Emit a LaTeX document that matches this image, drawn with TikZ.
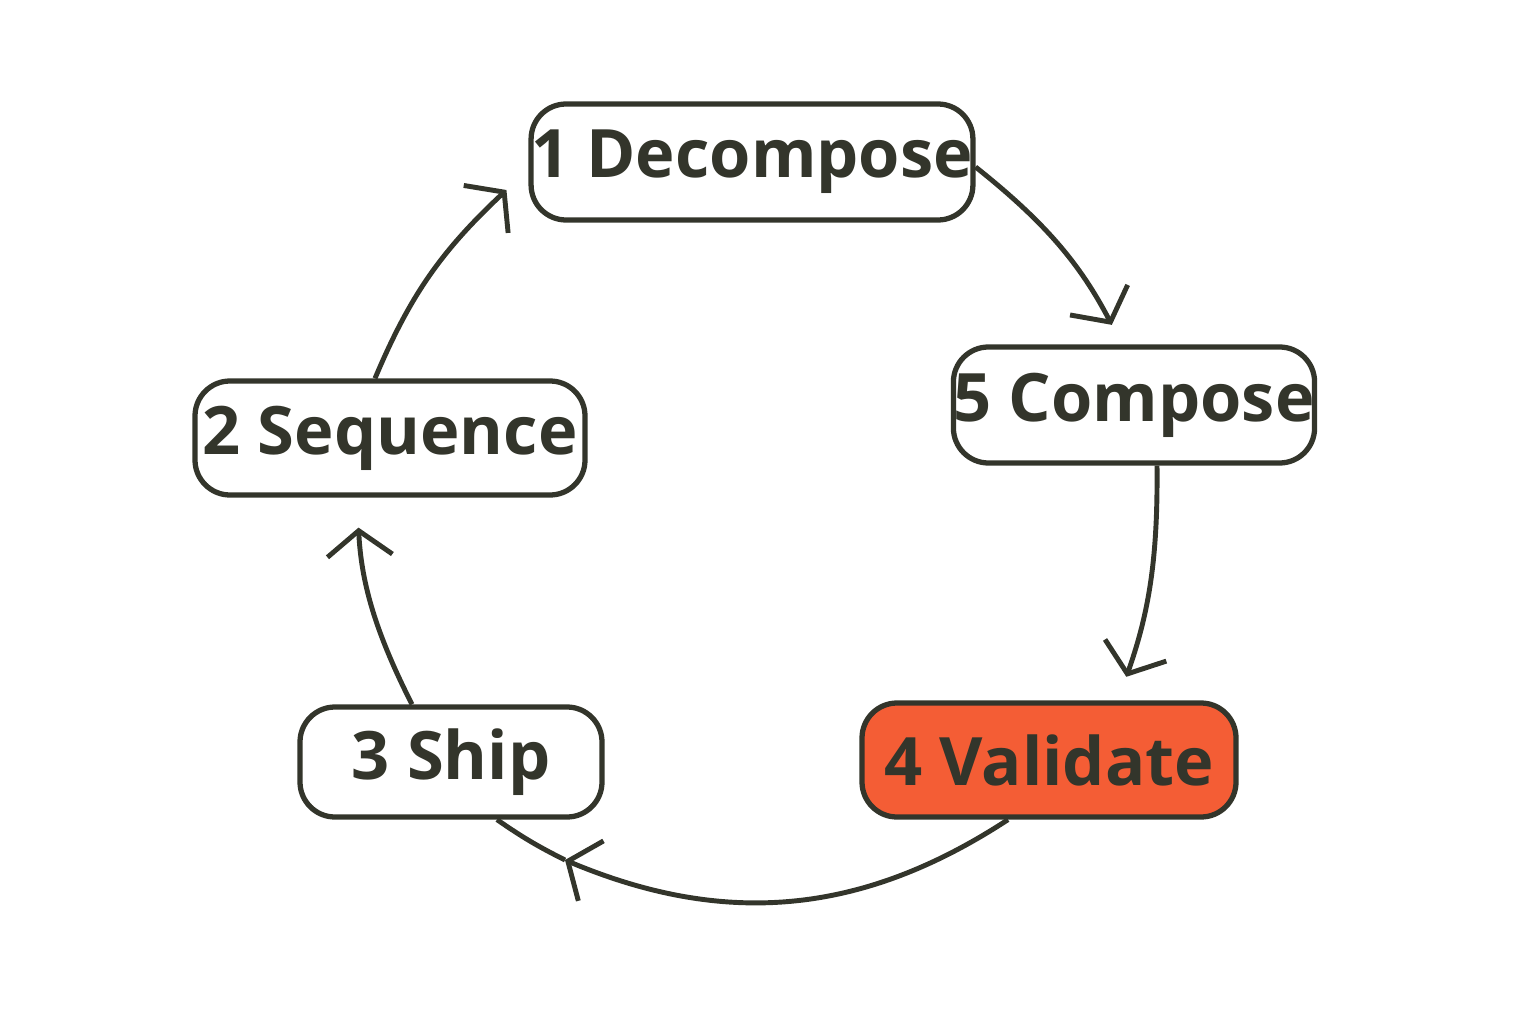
\documentclass[tikz,border=0pt]{standalone}
\usepackage{fontspec}
\setmainfont{Open Sans}
\usetikzlibrary{arrows.meta}
\definecolor{ink}{HTML}{33352B}
\definecolor{hot}{HTML}{F45D35}
\tikzset{
  stage/.style={draw=ink, line width=1.5pt, rounded corners=0.35cm, fill=white,
    font=\fontsize{19}{22}\selectfont\bfseries, text=ink, inner sep=0pt},
  flow/.style={draw=ink, line width=1.4pt, -{Straight Barb[length=2.5mm,width=6.5mm,line width=1.4pt]}}
}
\begin{document}
\begin{tikzpicture}
        \useasboundingbox (0,0) rectangle (15.36,10.24);
        % Etapas
        \node[stage, minimum width=4.4cm, minimum height=1.16cm] (dec) at (7.52,8.62) {1 Decompose};
        \node[stage, minimum width=3.52cm, minimum height=1.16cm] (comp) at (11.34,6.19) {5 Compose};
        \node[stage, minimum width=3.9cm, minimum height=1.14cm] (seq) at (3.90,5.86) {2 Sequence};
        \node[stage, minimum width=3.02cm, minimum height=1.1cm] (ship) at (4.51,2.62) {3 Ship};
        \node[stage, fill=hot, minimum width=3.74cm, minimum height=1.14cm] (val) at (10.49,2.64) {4 Validate};
        \coordinate (tip) at (5.65,1.64);
        % Flechas del ciclo
        \draw[flow, shorten >=2.2mm] ([yshift=-0.05cm]dec.east) to[bend left=12] ([xshift=-0.12cm]comp.north);
        \draw[flow, shorten >=2.5mm] ([xshift=0.23cm]comp.south) to[bend left=10] ([xshift=0.69cm]val.north);
        \draw[flow] ([xshift=-0.41cm]val.south) to[bend left=28] (tip);
        \draw[draw=ink, line width=1.4pt] (tip) to[bend left=4] ([xshift=0.46cm]ship.south);
        \draw[flow, shorten >=3mm] ([xshift=-0.39cm]ship.north) to[bend left=12] ([xshift=-0.33cm]seq.south);
        \draw[flow] ([xshift=-0.15cm]seq.north) to[bend left=12] ([xshift=-0.22cm,yshift=-0.28cm]dec.west);
    \end{tikzpicture}
\end{document}
